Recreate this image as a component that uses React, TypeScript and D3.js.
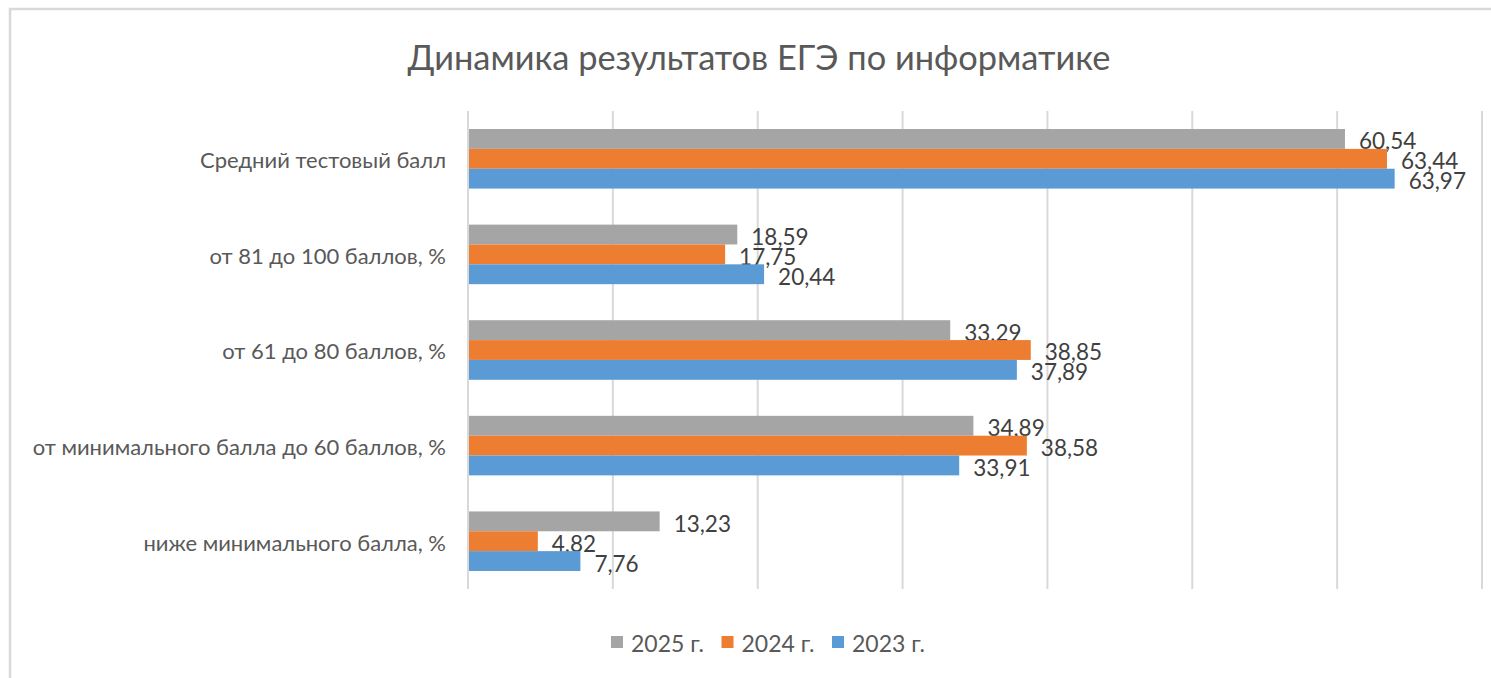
import React from "react";
import * as d3 from "d3";

const categories = [
  "Средний тестовый балл",
  "от 81 до 100 баллов, %",
  "от 61 до 80 баллов, %",
  "от минимального балла до 60 баллов, %",
  "ниже минимального балла, %",
];
const seriesNames = ["2025 г.", "2024 г.", "2023 г."];
const values2025 = [60.54, 18.59, 33.29, 34.89, 13.23];
const values2024 = [63.44, 17.75, 38.85, 38.58, 4.82];
const values2023 = [63.97, 20.44, 37.89, 33.91, 7.76];
const xTicks = [0, 10, 20, 30, 40, 50, 60, 70];
const title = "Динамика результатов ЕГЭ по информатике";

const colors = ["#a5a5a5", "#ed7d31", "#5b9bd5"];
const FONT = "Lato, 'Open Sans', sans-serif";

export default function App() {
  const W = 1491;
  const H = 678;
  const series = [values2025, values2024, values2023];
  const x = d3.scaleLinear().domain([0, 70]).range([468, 1482]);
  const y = d3.scaleBand<string>().domain(categories).range([111, 589]).padding(0);
  const yInner = d3
    .scaleBand<string>()
    .domain(seriesNames)
    .range([0, y.bandwidth()])
    .paddingInner(0)
    .paddingOuter(0.908);
  const fmt = (v: number) => d3.format(".2f")(v).replace(".", ",");
  const legendX = d3.scaleLinear().domain([0, 1]).range([611, 721.5]);

  return (
    <svg
      width={W}
      height={H}
      style={{ position: "fixed", left: 0, top: 0, background: "#fff" }}
      fontFamily={FONT}
    >
      <rect x={0} y={0} width={W} height={H} fill="#fff" />
      <rect x={10} y={9} width={W + 20} height={H + 20} fill="#fff" stroke="#d9d9d9" strokeWidth={2.5} />
      <text x={759} y={70} textAnchor="middle" fontSize={34.4} fill="#595959">
        {title}
      </text>
      {xTicks.map((t) => (
        <line key={t} x1={x(t)} x2={x(t)} y1={111} y2={589} stroke="#d9d9d9" strokeWidth={2} />
      ))}
      {categories.map((c, ci) => (
        <g key={c} transform={`translate(0,${y(c)})`}>
          <text
            x={446}
            y={y.bandwidth() / 2 + 1}
            textAnchor="end"
            dominantBaseline="central"
            fontSize={22}
            fill="#595959"
          >
            {c}
          </text>
          {seriesNames.map((s, si) => {
            const v = series[si][ci];
            const by = yInner(s)!;
            return (
              <g key={s}>
                <rect
                  x={x(0) + 1}
                  y={by}
                  width={x(v) - x(0) - 1}
                  height={yInner.bandwidth()}
                  fill={colors[si]}
                />
                <text
                  x={x(v) + 14}
                  y={by + yInner.bandwidth() / 2 + 2}
                  dominantBaseline="central"
                  fontSize={22.5}
                  fill="#404040"
                >
                  {fmt(v)}
                </text>
              </g>
            );
          })}
        </g>
      ))}
      {seriesNames.map((s, si) => (
        <g key={s} transform={`translate(${legendX(si)},642)`}>
          <rect x={0} y={-6} width={12} height={12} fill={colors[si]} />
          <text x={20} y={1} dominantBaseline="central" fontSize={23} fill="#595959">
            {s}
          </text>
        </g>
      ))}
    </svg>
  );
}
